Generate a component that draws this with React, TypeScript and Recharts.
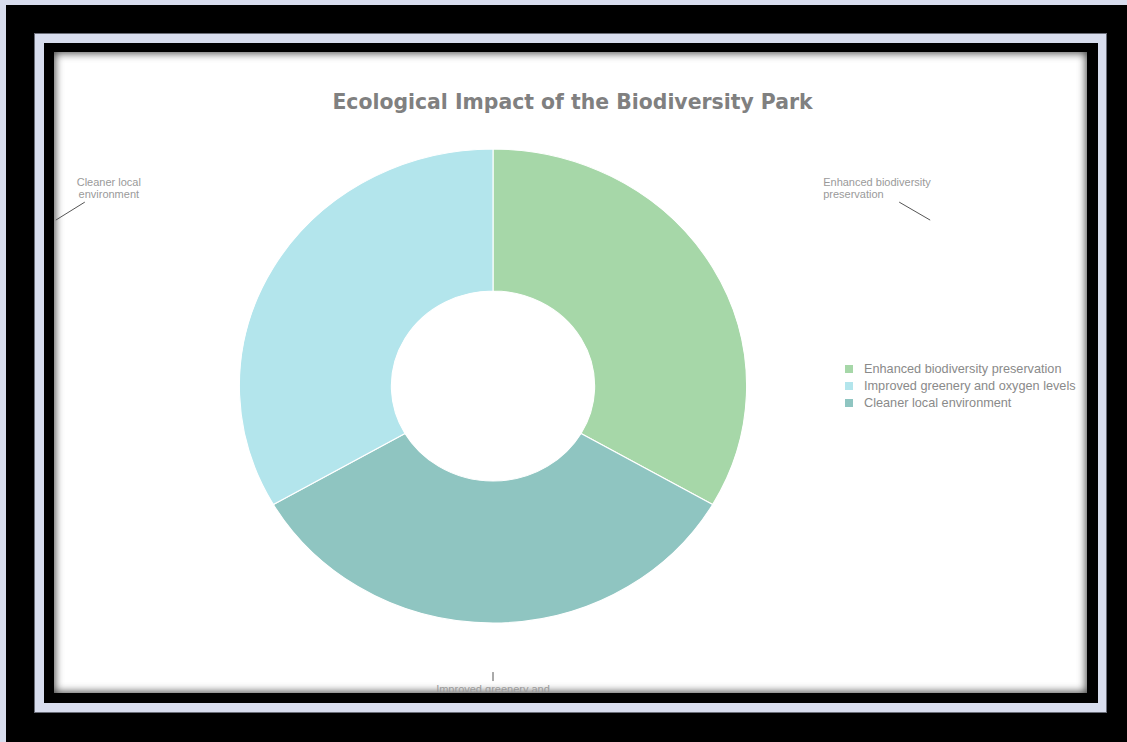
import { PieChart, Pie, Cell } from "recharts";

const categories = [
  "Enhanced biodiversity preservation",
  "Improved greenery and oxygen levels",
  "Cleaner local environment",
];
const shares = [33.3, 33.3, 33.3];
// slice fills in drawing order (as in the picture), legend swatches in legend order
const sliceColors = ["#a6d7a8", "#8fc5c1", "#b3e5ec"];
const legendColors = ["#a6d7a8", "#b3e5ec", "#8fc5c1"];

const data = categories.map((name, i) => ({ name, value: shares[i] }));

const W = 1033;
const H = 641;
const CX = 439;
const CY = 334;
const STRETCH = 1.07;

const RADIAN = Math.PI / 180;

// where each outside label sits, relative to the slice's mid angle
const labelLayout = [
  { fx: 2.13, fy: 1.4, lx: -31, ly: -18, tx: -107, ty: -34, anchor: "start" },
  { fx: 2.13, fy: 1.207, lx: 0, ly: 9, tx: 0, ty: 21, anchor: "middle" },
  { fx: 2.13, fy: 1.4, lx: 29, ly: -18, tx: 53, ty: -34, anchor: "middle" },
];

function wrap(text: string, max = 21) {
  const lines: string[] = [];
  let cur = "";
  for (const w of text.split(" ")) {
    if (cur && (cur + " " + w).length > max) {
      lines.push(cur);
      cur = w;
    } else {
      cur = cur ? cur + " " + w : w;
    }
  }
  if (cur) lines.push(cur);
  return lines;
}

function renderLabel(props: any) {
  const { cx, cy, midAngle, outerRadius, index } = props;
  const l = labelLayout[index];
  const ax = cx + Math.cos(-midAngle * RADIAN) * outerRadius * l.fx;
  const ay = cy + Math.sin(-midAngle * RADIAN) * outerRadius * l.fy;
  const lines = wrap(categories[index]);
  return (
    <g key={`lbl-${index}`}>
      <line x1={ax} y1={ay} x2={ax + l.lx} y2={ay + l.ly} stroke="#555" strokeWidth={1} />
      <text
        x={ax + l.tx}
        y={ay + l.ty}
        textAnchor={l.anchor}
        fill="#9a9a9a"
        fontSize={11}
        fontFamily="'Liberation Sans', Arial, sans-serif"
      >
        {lines.map((t, i) => (
          <tspan key={i} x={ax + l.tx} dy={i === 0 ? 0 : 11.5}>
            {t}
          </tspan>
        ))}
      </text>
    </g>
  );
}

export default function App() {
  return (
    <div
      style={{
        position: "fixed",
        left: 0,
        top: 0,
        width: 1127,
        height: 742,
        background: "#d8ddee",
        overflow: "hidden",
      }}
    >
      <style>{`
        .eco-pie .recharts-sector {
          transform-box: view-box;
          transform-origin: ${CX}px ${CY}px;
          transform: scaleX(${STRETCH});
        }
      `}</style>
      <div style={{ position: "absolute", left: 6, top: 5, width: 1130, height: 745, background: "#000" }} />
      <div
        style={{
          position: "absolute",
          left: 34,
          top: 33,
          width: 1073,
          height: 680,
          background: "#d8ddee",
          boxShadow: "inset 0 0 0 1px #6a6d78",
        }}
      />
      <div style={{ position: "absolute", left: 44, top: 43, width: 1054, height: 660, background: "#000" }} />
      <div
        className="eco-pie"
        style={{
          position: "absolute",
          left: 54,
          top: 52,
          width: W,
          height: H,
          background: "#fff",
          overflow: "hidden",
          boxShadow: "inset 0 0 9px 1px rgba(0,0,0,0.75)",
        }}
      >
        <div
          style={{
            position: "absolute",
            left: 2,
            top: 38,
            width: W,
            textAlign: "center",
            fontFamily: "'DejaVu Sans', Verdana, sans-serif",
            fontWeight: "bold",
            fontSize: 20.4,
            lineHeight: "24px",
            color: "#808080",
          }}
        >
          Ecological Impact of the Biodiversity Park
        </div>
        <PieChart width={W} height={H} margin={{ top: 0, right: 0, bottom: 0, left: 0 }}>
          <Pie
            data={data}
            dataKey="value"
            nameKey="name"
            cx={CX}
            cy={CY}
            innerRadius={95}
            outerRadius={237}
            startAngle={90}
            endAngle={-270}
            stroke="#ffffff"
            strokeWidth={1}
            label={renderLabel}
            labelLine={false}
            isAnimationActive={false}
          >
            {data.map((d, i) => (
              <Cell key={d.name} fill={sliceColors[i]} />
            ))}
          </Pie>
        </PieChart>
        <div
          style={{
            position: "absolute",
            left: 791,
            top: 308,
            fontFamily: "'Liberation Sans', Arial, sans-serif",
            fontSize: 12.7,
            color: "#8a8a8a",
          }}
        >
          {categories.map((c, i) => (
            <div key={c} style={{ display: "flex", alignItems: "center", height: 17 }}>
              <span style={{ width: 8, height: 8, background: legendColors[i], marginRight: 11 }} />
              <span>{c}</span>
            </div>
          ))}
        </div>
      </div>
    </div>
  );
}
